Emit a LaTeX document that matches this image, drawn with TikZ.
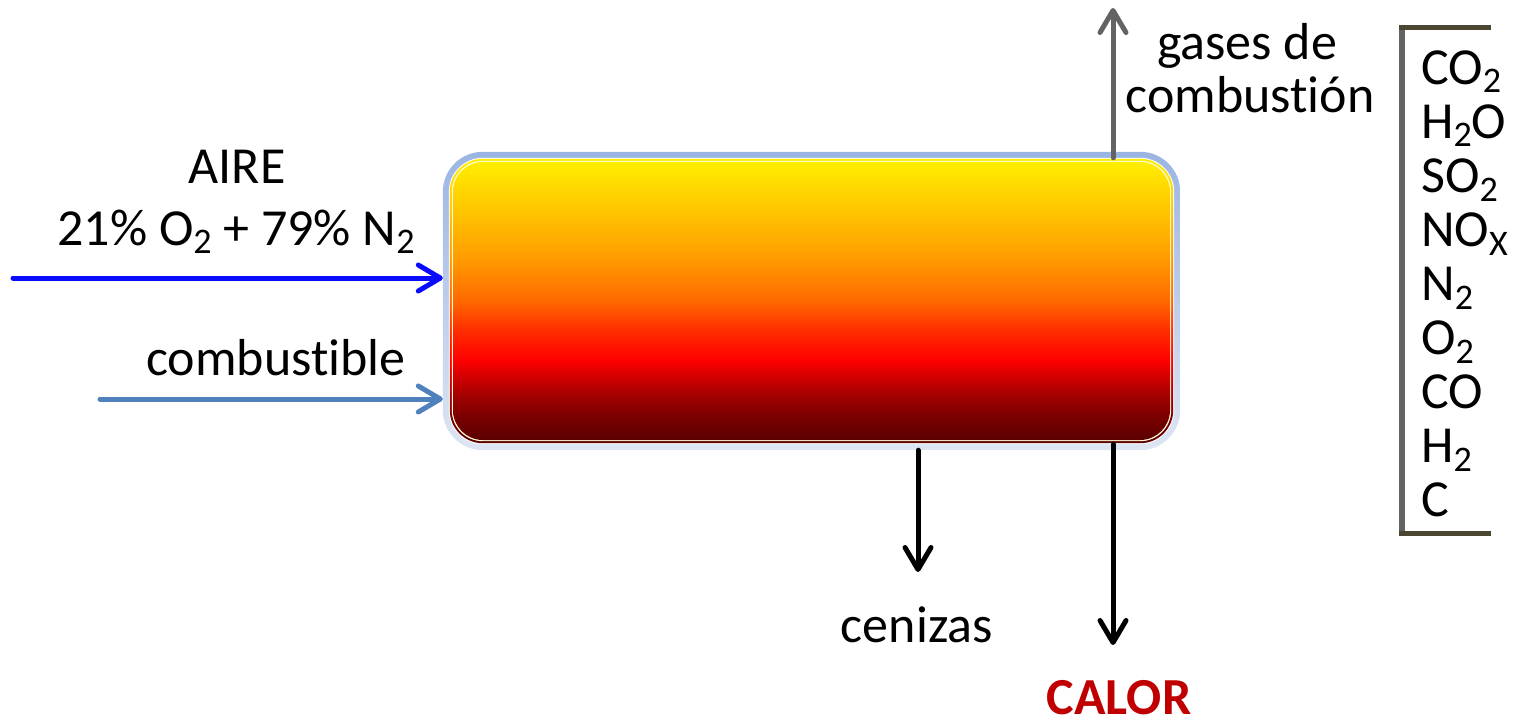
\documentclass[tikz,border=0pt]{standalone}
\usepackage{fontspec}
\setmainfont{Carlito}[Ligatures={NoCommon,NoContextual}]
\usetikzlibrary{arrows.meta,calc}
\definecolor{f1}{RGB}{90,0,0}
\definecolor{f2}{RGB}{128,0,0}
\definecolor{f3}{RGB}{176,0,0}
\definecolor{f4}{RGB}{255,0,0}
\definecolor{f5}{RGB}{255,46,0}
\definecolor{f6}{RGB}{255,106,0}
\definecolor{f7}{RGB}{255,154,0}
\definecolor{f8}{RGB}{255,192,0}
\definecolor{f9}{RGB}{255,238,0}
\definecolor{rimtop}{RGB}{155,181,226}
\definecolor{rimbot}{RGB}{222,229,243}
\definecolor{airblue}{RGB}{10,10,255}
\definecolor{fuelblue}{RGB}{79,129,189}
\definecolor{gasgray}{RGB}{99,99,99}
\definecolor{brkolive}{RGB}{75,70,48}
\definecolor{calred}{RGB}{192,0,0}
\pgfdeclareverticalshading{fire}{100bp}{color(0bp)=(f1); color(25bp)=(f1); color(29.9bp)=(f2); color(34bp)=(f3); color(39.4bp)=(f4); color(44.8bp)=(f5); color(50.2bp)=(f6); color(57.4bp)=(f7); color(65.1bp)=(f8); color(75bp)=(f9); color(100bp)=(f9)}
\newcommand\sbs[1]{\raisebox{-0.17em}{\fontsize{36}{36}\selectfont #1}}
\newcommand\nolig{\kern0pt }
\tikzset{
  lbl/.style={font=\fontsize{52}{54}\selectfont, inner sep=0pt},
  flow/.style={line width=5pt, line cap=round, -{Straight Barb[length=22pt,width=26pt,round]}},
}
\begin{document}
\begin{tikzpicture}[x=1pt,y=-1pt]
\useasboundingbox (0,0) rectangle (1514,721);
% box
\node[minimum width=737pt, minimum height=298pt, inner sep=0pt, draw=none] (box) at (811.5,301) {};
\shade[top color=rimtop, bottom color=rimbot, rounded corners=40pt] (box.north west) rectangle (box.south east);
\fill[white, rounded corners=34pt] ($(box.north west)+(6,6)$) rectangle ($(box.south east)+(-6,-6)$);
\shade[shading=fire, rounded corners=33pt] ($(box.north west)+(7,7)$) rectangle ($(box.south east)+(-7,-7)$);
\fill[white!85!yellow, rounded corners=31pt] ($(box.north west)+(9,9)$) rectangle ($(box.south east)+(-9,-9)$);
\shade[shading=fire, rounded corners=30pt] ($(box.north west)+(10.2,10.2)$) rectangle ($(box.south east)+(-10.2,-10.2)$);
% inputs
\coordinate (airstart) at (13,278);
\coordinate (fuelstart) at (100,399);
\draw[flow, airblue] (airstart) -- (box.west |- airstart);
\draw[flow, fuelblue] (fuelstart) -- (box.west |- fuelstart);
\node[lbl, anchor=base] (air1) at (237,183) {AIRE};
\node[lbl, anchor=base] (air2) at (236,245) {21\% O\sbs{2} + 79\% N\sbs{2}};
\node[lbl, anchor=base east] (fuel) at (406,375) {combust\nolig ible};
% outputs
\coordinate (gastip) at (1113,8);
\coordinate (ashtip) at (918,572);
\coordinate (heattip) at (1113,645);
\draw[flow, gasgray] (box.north -| gastip) ++(0,6) -- (gastip);
\draw[flow, black] (box.south -| ashtip) -- (ashtip);
\draw[flow, black] (box.south -| heattip) ++(0,-6) -- (heattip);
\node[lbl, anchor=base] (gas1) at (1247,59) {gases de};
\node[lbl, anchor=base] (gas2) at (1250,112) {combust\nolig i\'on};
\node[lbl, anchor=base, text depth=0pt, font=\fontsize{52}{54}\selectfont\bfseries, text=calred] (heat) at (1119,714) {CALOR};
\node[lbl, anchor=base] (ash) at (917,642) {cenizas};
% bracket list
\coordinate (bt) at (1402,27);
\coordinate (bb) at (1402,533);
\draw[line width=6pt, gasgray] (bt) -- (bb);
\draw[line width=5pt, brkolive] ($(bt)+(-3,0)$) -- ++(92,0);
\draw[line width=5pt, brkolive] ($(bb)+(-3,0)$) -- ++(92,0);
\foreach \t [count=\i] in {CO\sbs{2}, H\sbs{2}O, SO\sbs{2}, NO\sbs{X}, N\sbs{2}, O\sbs{2}, CO, H\sbs{2}, C}
  \node[lbl, anchor=base west] (g\i) at (1421,{84+54.1*(\i-1)}) {\t};
\end{tikzpicture}
\end{document}
